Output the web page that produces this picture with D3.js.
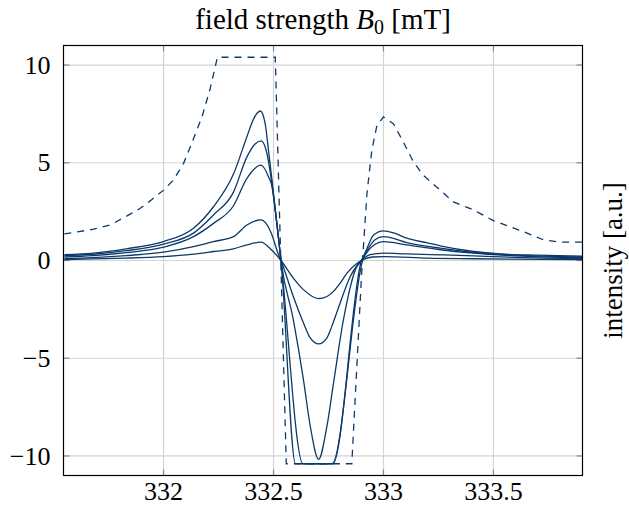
<!DOCTYPE html>
<html>
<head>
<meta charset="utf-8">
<style>
  body { margin: 0; background: #fff; }
  text { font-family: "Liberation Serif", "Times New Roman", serif; fill: #000; }
</style>
</head>
<body>
<svg width="629" height="506"></svg>
<script src="https://cdn.jsdelivr.net/npm/d3@7"></script>
<script>

// tick values
var xTicks = [332, 332.5, 333, 333.5];
var yTicks = [-10, -5, 0, 5, 10];

// dashed trace (clipped at +-10.4)
var dashedX = [331.549, 331.682, 331.758, 331.834, 331.894, 331.939, 332.0, 332.045, 332.091, 332.121,
  332.175, 332.212, 332.245, 332.508, 332.558, 332.856, 332.90, 332.925, 332.947, 332.97,
  333.0, 333.045, 333.09, 333.136, 333.18, 333.258, 333.318, 333.409, 333.5, 333.576,
  333.636, 333.727, 333.80, 333.903];
var dashedY = [1.36, 1.6, 1.82, 2.28, 2.67, 3.05, 3.6, 4.12, 4.97, 5.8,
  7.35, 8.8, 10.4, 10.4, -10.4, -10.4, -0.8, 3.44, 5.63, 6.9,
  7.35, 7.0, 6.07, 5.05, 4.37, 3.6, 3.0, 2.59, 2.04, 1.73,
  1.48, 1.06, 0.94, 0.94];

// solid traces
var aX = [331.549, 331.68, 331.83, 332.0, 332.136, 332.227, 332.318, 332.379, 332.41, 332.44,
  332.462, 332.477, 332.493, 332.515, 332.534, 332.60, 332.766, 332.905, 332.93, 332.955,
  333.0, 333.05, 333.106, 333.2, 333.258, 333.41, 333.53, 333.7, 333.903];
var aY = [0.3, 0.38, 0.6, 0.97, 1.65, 2.75, 4.42, 6.33, 7.26, 7.65,
  7.0, 5.65, 4.12, 1.91, 0, -10.4, -10.4, 0, 0.75, 1.31,
  1.52, 1.4, 1.14, 0.9, 0.75, 0.46, 0.34, 0.27, 0.22];

var bX = [331.549, 331.68, 331.83, 332.0, 332.136, 332.227, 332.318, 332.379, 332.415, 332.443,
  332.47, 332.488, 332.515, 332.534, 332.634, 332.77, 332.9, 332.93, 332.96, 333.0,
  333.106, 333.258, 333.41, 333.6, 333.903];
var bY = [0.25, 0.32, 0.5, 0.84, 1.4, 2.33, 3.5, 5.3, 5.95, 6.12,
  5.48, 4.29, 1.91, 0, -10.4, -10.4, 0, 0.6, 1.05, 1.22,
  0.92, 0.63, 0.41, 0.27, 0.18];

var cX = [331.549, 331.68, 331.83, 332.0, 332.136, 332.227, 332.318, 332.379, 332.443, 332.477,
  332.493, 332.515, 332.534, 332.59, 332.636, 332.667, 332.705, 332.743, 332.773, 332.818,
  332.879, 332.9, 332.93, 332.96, 333.0, 333.106, 333.258, 333.41, 333.6, 333.903];
var cY = [0.18, 0.25, 0.4, 0.68, 1.22, 1.9, 2.8, 4.2, 4.88, 4.29,
  3.78, 1.91, 0, -3.03, -6.09, -8.47, -10.17, -8.47, -6.26, -3.03,
  -0.3, 0, 0.5, 0.82, 0.97, 0.8, 0.55, 0.38, 0.24, 0.15];

var dX = [331.549, 331.68, 331.83, 332.0, 332.136, 332.227, 332.318, 332.379, 332.443, 332.49,
  332.52, 332.534, 332.59, 332.636, 332.667, 332.705, 332.743, 332.765, 332.803, 332.849,
  332.9, 332.94, 333.0, 333.106, 333.258, 333.41, 333.6, 333.903];
var dY = [0.1, 0.15, 0.25, 0.43, 0.71, 0.97, 1.22, 1.82, 2.08, 1.4,
  0.38, 0, -1.84, -3.19, -3.96, -4.27, -3.96, -3.37, -2.17, -0.82,
  0, 0.3, 0.38, 0.34, 0.29, 0.24, 0.16, 0.1];

var eX = [331.549, 331.68, 331.83, 332.0, 332.136, 332.227, 332.318, 332.379, 332.443, 332.49,
  332.534, 332.59, 332.636, 332.705, 332.743, 332.773, 332.803, 332.834, 332.88, 332.9,
  332.95, 333.0, 333.2, 333.41, 333.903];
var eY = [0.05, 0.08, 0.12, 0.2, 0.33, 0.46, 0.6, 0.8, 0.94, 0.55,
  0, -0.9, -1.49, -1.95, -1.84, -1.58, -1.16, -0.65, -0.14, 0,
  0.18, 0.2, 0.12, 0.09, 0.04];

var lineColor = "#0b3a6a";

var svg = d3.select("svg"),
    margin = {top: 45.5, right: 46.5, bottom: 30.5, left: 63.5},
    width = +svg.attr("width") - margin.left - margin.right,
    height = +svg.attr("height") - margin.top - margin.bottom;

var x = d3.scaleLinear().domain([331.545, 333.905]).range([0, width]),
    y = d3.scaleLinear().domain([-11, 11]).range([height, 0]);

var g = svg.append("g")
    .attr("transform", "translate(" + margin.left + "," + margin.top + ")");

g.append("clipPath").attr("id", "plotclip")
  .append("rect").attr("width", width).attr("height", height);

// grid
g.append("g").selectAll("line").data(xTicks).enter().append("line")
    .attr("x1", function(d) { return x(d); }).attr("x2", function(d) { return x(d); })
    .attr("y1", 0).attr("y2", height)
    .attr("stroke", "#d4d4d4").attr("stroke-width", 1.2);
g.append("g").selectAll("line").data(yTicks).enter().append("line")
    .attr("y1", function(d) { return y(d); }).attr("y2", function(d) { return y(d); })
    .attr("x1", 0).attr("x2", width)
    .attr("stroke", "#d4d4d4").attr("stroke-width", 1.2);

// tick marks on all four sides, pointing inward
var tl = 6;
var tickCol = "#8a8a8a";
xTicks.forEach(function(d) {
  g.append("line").attr("x1", x(d)).attr("x2", x(d)).attr("y1", height).attr("y2", height - tl)
    .attr("stroke", tickCol).attr("stroke-width", 1.2);
  g.append("line").attr("x1", x(d)).attr("x2", x(d)).attr("y1", 0).attr("y2", tl)
    .attr("stroke", tickCol).attr("stroke-width", 1.2);
});
yTicks.forEach(function(d) {
  g.append("line").attr("x1", 0).attr("x2", tl).attr("y1", y(d)).attr("y2", y(d))
    .attr("stroke", tickCol).attr("stroke-width", 1.2);
  g.append("line").attr("x1", width).attr("x2", width - tl).attr("y1", y(d)).attr("y2", y(d))
    .attr("stroke", tickCol).attr("stroke-width", 1.2);
});

// curves
var line = d3.line()
    .x(function(d) { return x(d[0]); })
    .y(function(d) { return y(d[1]); })
    .curve(d3.curveMonotoneX);

function pairs(xs, ys) { return xs.map(function(v, i) { return [v, ys[i]]; }); }

var solid = [pairs(eX, eY), pairs(dX, dY), pairs(cX, cY), pairs(bX, bY), pairs(aX, aY)];

var curves = g.append("g").attr("clip-path", "url(#plotclip)");
curves.selectAll(".solid").data(solid).enter().append("path")
    .attr("class", "solid")
    .attr("d", line)
    .attr("fill", "none").attr("stroke", lineColor).attr("stroke-width", 1.3);

curves.append("path")
    .attr("d", d3.line().x(function(d) { return x(d[0]); }).y(function(d) { return y(d[1]); })(pairs(dashedX, dashedY)))
    .attr("fill", "none").attr("stroke", lineColor).attr("stroke-width", 1.3)
    .attr("stroke-dasharray", "7,6");

// frame
g.append("rect").attr("width", width).attr("height", height)
    .attr("fill", "none").attr("stroke", "#000").attr("stroke-width", 1.2);

// tick labels
g.append("g").selectAll("text").data(xTicks).enter().append("text")
    .attr("x", function(d) { return x(d); })
    .attr("y", height + 24)
    .attr("text-anchor", "middle")
    .style("font-size", "26px")
    .text(function(d) { return String(d); });

g.append("g").selectAll("text").data(yTicks).enter().append("text")
    .attr("x", -13)
    .attr("y", function(d) { return y(d); })
    .attr("dy", "0.33em")
    .attr("text-anchor", "end")
    .style("font-size", "26px")
    .text(function(d) { return d < 0 ? "\u2212" + Math.abs(d) : String(d); });

// title
var title = svg.append("text")
    .attr("x", margin.left + width / 2)
    .attr("y", 29)
    .attr("text-anchor", "middle")
    .style("font-size", "29px");
title.append("tspan").text("field strength ");
title.append("tspan").style("font-style", "italic").text("B");
title.append("tspan").attr("dy", 5).style("font-size", "20px").text("0");
title.append("tspan").attr("dy", -5).text(" [mT]");

// right label
svg.append("text")
    .attr("transform", "translate(" + 622 + "," + (margin.top + height / 2) + ") rotate(-90)")
    .attr("text-anchor", "middle")
    .style("font-size", "27px")
    .text("intensity [a.u.]");

</script>
</body>
</html>
